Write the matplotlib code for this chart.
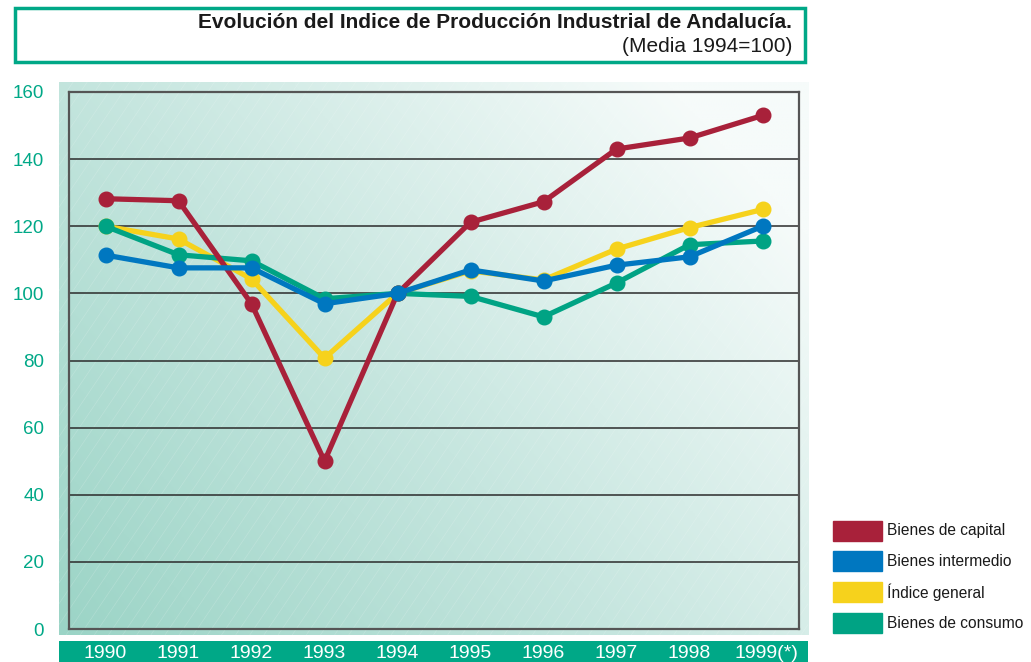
import matplotlib
matplotlib.use("Agg")
import matplotlib.pyplot as plt
import numpy as np
from matplotlib.patches import Rectangle
from matplotlib.colors import LinearSegmentedColormap

years = ["1990", "1991", "1992", "1993", "1994", "1995", "1996", "1997", "1998", "1999(*)"]
capital = [128.2, 127.6, 96.9, 50.0, 100.0, 121.2, 127.3, 143.0, 146.3, 153.0]
intermedio = [111.4, 107.6, 107.6, 96.9, 100.0, 107.0, 103.7, 108.4, 110.9, 120.0]
general = [120.0, 116.2, 104.3, 80.7, 100.0, 106.7, 104.0, 113.2, 119.6, 125.0]
consumo = [120.0, 111.5, 109.7, 98.4, 100.0, 99.1, 93.0, 103.1, 114.5, 115.6]
yticks = [0, 20, 40, 60, 80, 100, 120, 140, 160]
legend_labels = ["Bienes de capital", "Bienes intermedio", "Índice general", "Bienes de consumo"]

C_CAP = "#A8213A"
C_INT = "#0077C0"
C_GEN = "#F6D21C"
C_CON = "#00A384"
TEAL = "#00A887"

plt.rcParams['font.family'] = ['Liberation Sans', 'DejaVu Sans']

W, H = 1031, 662
fig = plt.figure(figsize=(W / 100, H / 100), dpi=100)

def fx(px):
    return px / W

def fy(py):
    return 1 - py / H

# Background gradient panel
bg = fig.add_axes([fx(59), fy(635), fx(808 - 59), (635 - 82) / H])
nx, ny = 300, 220
xx, yy = np.meshgrid(np.linspace(0, 1, nx), np.linspace(0, 1, ny))
t = np.clip((xx * 0.8 + yy * 0.55) / 1.2, 0, 1)
cmap = LinearSegmentedColormap.from_list("g", ["#9BD4C6", "#C6E6DF", "#F6FBFA"])
bg.imshow(t, cmap=cmap, origin="lower", aspect="auto", extent=[0, 1, 0, 1], vmin=0, vmax=1)
# faint diagonal hatch
for k in np.linspace(-1.5, 1.5, 160):
    bg.plot([k, k + 0.5], [0, 1], color="white", lw=0.5, alpha=0.18)
bg.set_xlim(0, 1)
bg.set_ylim(0, 1)
bg.axis("off")

# Main axes
ax = fig.add_axes([fx(69), fy(629), fx(799 - 69), (629 - 92) / H])
ax.patch.set_alpha(0)
x = np.arange(len(years))
ax.set_xlim(-0.5, len(years) - 0.5)
ax.set_ylim(0, 160)
for v in yticks[1:-1]:
    ax.axhline(v, color="#2b2b2b", lw=1.1, zorder=1)
for s in ax.spines.values():
    s.set_color("#555555")
    s.set_linewidth(1.6)

lw, ms = 3.8, 10.5
ax.plot(x, general, color=C_GEN, lw=lw, marker="o", ms=ms, zorder=3, solid_capstyle="round")
ax.plot(x, consumo, color=C_CON, lw=lw, marker="o", ms=ms, zorder=4, solid_capstyle="round")
ax.plot(x, capital, color=C_CAP, lw=lw, marker="o", ms=ms, zorder=5, solid_capstyle="round")
ax.plot(x, intermedio, color=C_INT, lw=lw, marker="o", ms=ms, zorder=6, solid_capstyle="round")

ax.set_yticks(yticks)
ax.set_yticklabels([str(v) for v in yticks], color=TEAL, fontsize=13.5)
ax.tick_params(axis="y", length=0, pad=18)
ax.set_xticks([])

# X-axis label bar
xb = fig.add_axes([fx(59), fy(662), fx(808 - 59), 21 / H])
xb.set_xlim(59, 808)
xb.set_ylim(0, 1)
xb.add_patch(Rectangle((59, 0), 808 - 59, 1, color=TEAL))
xb.axis("off")
x0, x1 = 105, 762
for i, lab in enumerate(years):
    px = x0 + (x1 - x0) * i / (len(years) - 1)
    if i == len(years) - 1:
        px += 4
    xb.text(px, 0.4, lab, color="white", fontsize=14, ha="center", va="center")

# Title box
fig.patches.append(Rectangle((fx(15), fy(62)), fx(805 - 15), (62 - 8) / H,
                             transform=fig.transFigure, fill=False, edgecolor=TEAL, lw=2.5))
fig.text(fx(792), fy(22), "Evolución del Indice de Producción Industrial de Andalucía.",
         ha="right", va="center", fontsize=15, fontweight="bold", color="#1a1a1a")
fig.text(fx(792), fy(46), "(Media 1994=100)", ha="right", va="center", fontsize=15, color="#1a1a1a")

# Legend
leg_colors = [C_CAP, C_INT, C_GEN, C_CON]
leg_y = [531, 561, 592, 623]
for c, lab, py in zip(leg_colors, legend_labels, leg_y):
    fig.patches.append(Rectangle((fx(833), fy(py + 10)), fx(49), 20 / H,
                                 transform=fig.transFigure, color=c))
    fig.text(fx(887), fy(py), lab, ha="left", va="center", fontsize=11.2, color="#1a1a1a")

fig.savefig("out.png", dpi=100)
